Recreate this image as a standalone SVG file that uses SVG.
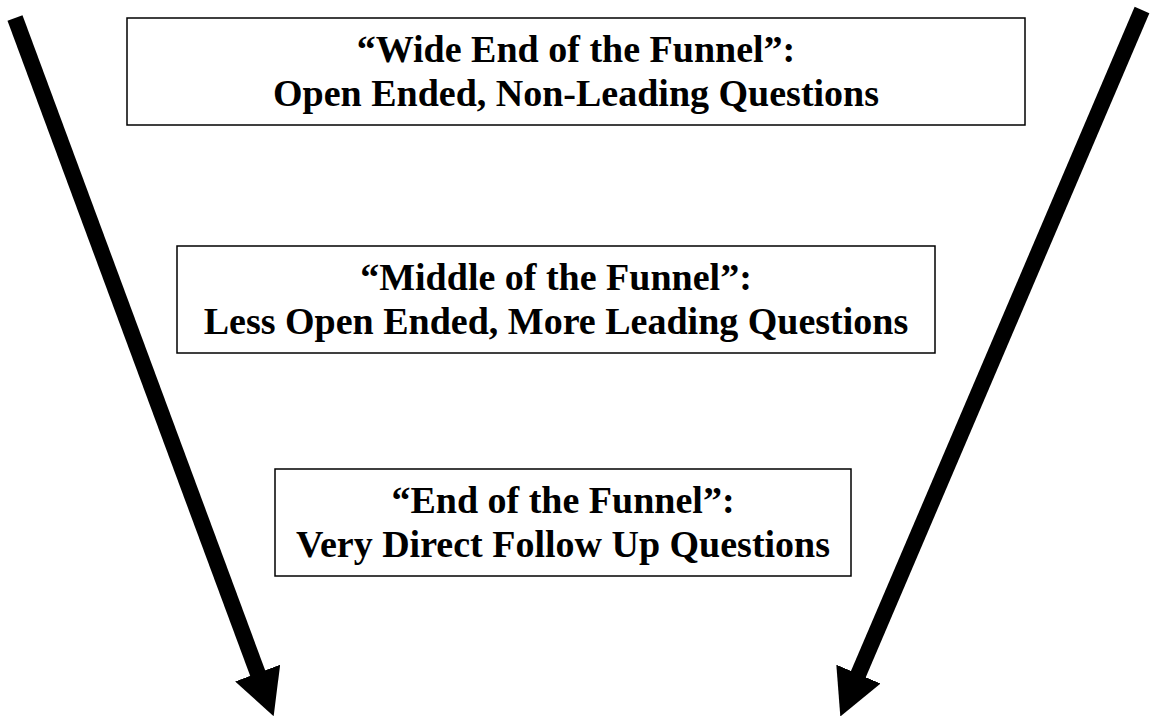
<svg xmlns="http://www.w3.org/2000/svg" width="1152" height="717" viewBox="0 0 1152 717">
  <style>
    .box { fill: #fff; stroke: #000; stroke-width: 1.5; }
    .label { font-family: "Liberation Serif", "Times New Roman", serif; font-weight: bold; font-size: 38px; fill: #000; text-anchor: middle; }
    .shaft { stroke: #000; stroke-width: 16; fill: none; marker-end: url(#head); }
  </style>
  <defs>
    <marker id="head" markerUnits="userSpaceOnUse" markerWidth="46" markerHeight="48" viewBox="0 0 46 48" refX="1" refY="24" orient="auto">
      <path d="M0,0 L46,24 L0,48 Z" fill="#000"/>
    </marker>
  </defs>
  <rect width="1152" height="717" fill="#fff"/>

  <!-- funnel sides -->
  <g id="connectors">
    <line class="shaft" x1="15" y1="18" x2="258" y2="674"/>
    <line class="shaft" x1="1142" y1="10" x2="858" y2="675"/>
  </g>

  <g id="wide-end">
    <rect class="box" x="127" y="18" width="898" height="107"/>
    <text class="label" x="576" y="62">“Wide End of the Funnel”:</text>
    <text class="label" x="576" y="106">Open Ended, Non-Leading Questions</text>
  </g>

  <g id="middle">
    <rect class="box" x="177" y="246" width="758" height="107"/>
    <text class="label" x="556" y="290">“Middle of the Funnel”:</text>
    <text class="label" x="556" y="334">Less Open Ended, More Leading Questions</text>
  </g>

  <g id="end">
    <rect class="box" x="275" y="469" width="576" height="107"/>
    <text class="label" x="563" y="513">“End of the Funnel”:</text>
    <text class="label" x="563" y="557">Very Direct Follow Up Questions</text>
  </g>
</svg>
